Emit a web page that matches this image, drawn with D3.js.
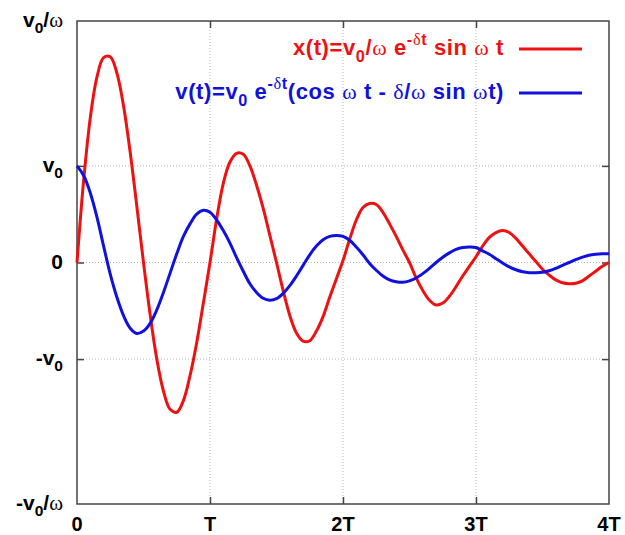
<!DOCTYPE html>
<html>
<head>
<meta charset="utf-8">
<script src="https://cdn.jsdelivr.net/npm/d3@7"></script>
<style>
  body { margin: 0; background: #fff; }
  text { font-family: "Liberation Sans", Arial, sans-serif; font-weight: bold; white-space: pre; }
</style>
</head>
<body>
<svg id="chart"></svg>
<script>
// time in units of T, values in units of v0 (v0/omega sits at 2.5)
var tSamples = [0, 0.05, 0.1, 0.15, 0.2, 0.25, 0.3, 0.35, 0.4, 0.45, 0.5, 0.55, 0.6, 0.65, 0.7, 0.75, 0.8, 0.85, 0.9, 0.95,
  1, 1.05, 1.1, 1.15, 1.2, 1.25, 1.3, 1.35, 1.4, 1.45, 1.5, 1.55, 1.6, 1.65, 1.7, 1.75, 1.8, 1.85, 1.9, 1.95,
  2, 2.05, 2.1, 2.15, 2.2, 2.25, 2.3, 2.35, 2.4, 2.45, 2.5, 2.55, 2.6, 2.65, 2.7, 2.75, 2.8, 2.85, 2.9, 2.95,
  3, 3.05, 3.1, 3.15, 3.2, 3.25, 3.3, 3.35, 3.4, 3.45, 3.5, 3.55, 3.6, 3.65, 3.7, 3.75, 3.8, 3.85, 3.9, 3.95, 4]

var xValues = [0, 0.85, 1.5, 1.92, 2.12, 2.13, 1.96, 1.62, 1.14, 0.58, 0, -0.54, -1.0, -1.33, -1.52, -1.55, -1.43, -1.17, -0.83, -0.42,
  0, 0.45, 0.82, 1.04, 1.13, 1.12, 1.0, 0.8, 0.56, 0.28, 0, -0.29, -0.55, -0.73, -0.815, -0.81, -0.71, -0.56, -0.36, -0.17,
  0.02, 0.24, 0.44, 0.57, 0.61, 0.6, 0.52, 0.4, 0.27, 0.13, 0, -0.16, -0.29, -0.39, -0.44, -0.42, -0.35, -0.25, -0.14, -0.04,
  0.06, 0.17, 0.26, 0.31, 0.33, 0.31, 0.25, 0.17, 0.09, 0.01, -0.07, -0.13, -0.18, -0.21, -0.22, -0.215, -0.19, -0.14, -0.09, -0.04, 0]

var vValues = [1.0, 0.9, 0.72, 0.47, 0.17, -0.12, -0.36, -0.55, -0.68, -0.735, -0.71, -0.63, -0.49, -0.31, -0.11, 0.09, 0.27, 0.4, 0.5, 0.54,
  0.52, 0.44, 0.33, 0.2, 0.05, -0.09, -0.22, -0.31, -0.37, -0.39, -0.375, -0.32, -0.24, -0.14, -0.03, 0.08, 0.17, 0.235, 0.27, 0.28,
  0.27, 0.23, 0.16, 0.08, -0.01, -0.08, -0.14, -0.18, -0.2, -0.205, -0.19, -0.16, -0.115, -0.06, 0, 0.055, 0.1, 0.135, 0.155, 0.16,
  0.155, 0.12, 0.085, 0.04, -0.005, -0.045, -0.075, -0.095, -0.105, -0.105, -0.1, -0.085, -0.06, -0.03, 0, 0.03, 0.055, 0.075, 0.085, 0.09, 0.09]

var xTicks = [0, 1, 2, 3, 4]
var xTickLabels = ['0', 'T', '2T', '3T', '4T']
var yTicks = [2.5, 1, 0, -1, -2.5]
var yTickLabels = ['v_0/ω', 'v_0', '0', '-v_0', '-v_0/ω']
var legendLabels = ['x(t)=v_0/ω e^{-δt} sin ω t', 'v(t)=v_0 e^{-δt}(cos ω t - δ/ω sin ωt)']
var seriesColors = ['#ee1111', '#1111dd']

var dims = { width: 625, height: 535, margin: { top: 21, right: 16, bottom: 31, left: 77 } }
var svg = d3.select('#chart').attr('width', dims.width).attr('height', dims.height)

var xScale = d3.scaleLinear().domain([0, 4])
  .range([dims.margin.left, dims.width - dims.margin.right])
var yScale = d3.scaleLinear().domain([-2.5, 2.5])
  .range([dims.height - dims.margin.bottom, dims.margin.top])

// dotted grid
svg.append('g').selectAll('line').data(xTicks.slice(1, -1)).enter().append('line')
  .attr('x1', d => xScale(d)).attr('x2', d => xScale(d))
  .attr('y1', yScale(2.5)).attr('y2', yScale(-2.5))
  .attr('stroke', '#b8b8b8').attr('stroke-dasharray', '1,2')
svg.append('g').selectAll('line').data(yTicks.slice(1, -1)).enter().append('line')
  .attr('y1', d => yScale(d)).attr('y2', d => yScale(d))
  .attr('x1', xScale(0)).attr('x2', xScale(4))
  .attr('stroke', '#b8b8b8').attr('stroke-dasharray', '1,2')

// inward ticks on all four sides
function tickAxis(axis, tx, ty) {
  var g = svg.append('g').attr('transform', 'translate(' + tx + ',' + ty + ')')
    .call(axis.tickSize(-7).tickFormat(''))
  g.select('.domain').remove()
  g.selectAll('line').attr('stroke', '#444').attr('stroke-width', 1.5)
}
tickAxis(d3.axisLeft(yScale).tickValues(yTicks.slice(1, -1)), xScale(0), 0)
tickAxis(d3.axisRight(yScale).tickValues(yTicks.slice(1, -1)), xScale(4), 0)
tickAxis(d3.axisBottom(xScale).tickValues(xTicks.slice(1, -1)), 0, yScale(-2.5))
tickAxis(d3.axisTop(xScale).tickValues(xTicks.slice(1, -1)), 0, yScale(2.5))

svg.append('rect')
  .attr('x', xScale(0)).attr('y', yScale(2.5))
  .attr('width', xScale(4) - xScale(0)).attr('height', yScale(-2.5) - yScale(2.5))
  .attr('fill', 'none').attr('stroke', '#444').attr('stroke-width', 1.5)

// text with _x subscripts, ^{..} superscripts and serif greek letters
function richText(textSel, str, size) {
  var segs = [], buf = '', i = 0
  while (i < str.length) {
    var c = str[i]
    if (c === '_') {
      if (buf) segs.push({ t: buf, m: 0 }); buf = ''
      segs.push({ t: str[i + 1], m: 1 }); i += 2
    } else if (c === '^' && str[i + 1] === '{') {
      if (buf) segs.push({ t: buf, m: 0 }); buf = ''
      var j = str.indexOf('}', i)
      segs.push({ t: str.slice(i + 2, j), m: -1 }); i = j + 1
    } else { buf += c; i++ }
  }
  if (buf) segs.push({ t: buf, m: 0 })
  var shift = 0
  segs.forEach(function (s) {
    var target = s.m === 1 ? size * 0.3 : s.m === -1 ? -size * 0.47 : 0
    var fs = s.m === 0 ? size : size * 0.74
    s.t.split(/([ωδ]+)/).filter(p => p).forEach(function (p, k) {
      var ts = textSel.append('tspan').attr('font-size', fs).text(p)
      if (/[ωδ]/.test(p)) ts.attr('font-family', '"Liberation Serif", "DejaVu Serif", serif').attr('font-weight', 'normal')
      if (k === 0 && target !== shift) { ts.attr('dy', target - shift); shift = target }
    })
  })
}

// right-align a rich text by measuring it
function alignRight(t, right) {
  var w = t.node().getBBox().width
  t.attr('x', right - w)
}

yTicks.forEach(function (d, i) {
  var t = svg.append('text').attr('x', 0).attr('y', yScale(d) + 6)
  richText(t, yTickLabels[i], 21)
  alignRight(t, 63)
})
svg.append('g').selectAll('text').data(xTicks).enter().append('text')
  .attr('x', d => xScale(d)).attr('y', yScale(-2.5) + 27)
  .attr('text-anchor', 'middle').attr('font-size', 20)
  .text((d, i) => xTickLabels[i])

// curves
var line = d3.line().x(d => xScale(d[0])).y(d => yScale(d[1])).curve(d3.curveCatmullRom.alpha(0.5))
;[xValues, vValues].forEach(function (vals, i) {
  svg.append('path').datum(d3.zip(tSamples, vals))
    .attr('d', line)
    .attr('fill', 'none').attr('stroke', seriesColors[i]).attr('stroke-width', 3)
})

// key
legendLabels.forEach(function (label, i) {
  var ly = 49 + i * 44
  var t = svg.append('text').attr('x', 0).attr('y', ly + 6)
    .attr('fill', seriesColors[i]).attr('letter-spacing', 0.6)
  richText(t, label, 22)
  alignRight(t, 504)
  svg.append('line').attr('x1', 519).attr('x2', 582).attr('y1', ly).attr('y2', ly)
    .attr('stroke', seriesColors[i]).attr('stroke-width', 3)
})
</script>
</body>
</html>
